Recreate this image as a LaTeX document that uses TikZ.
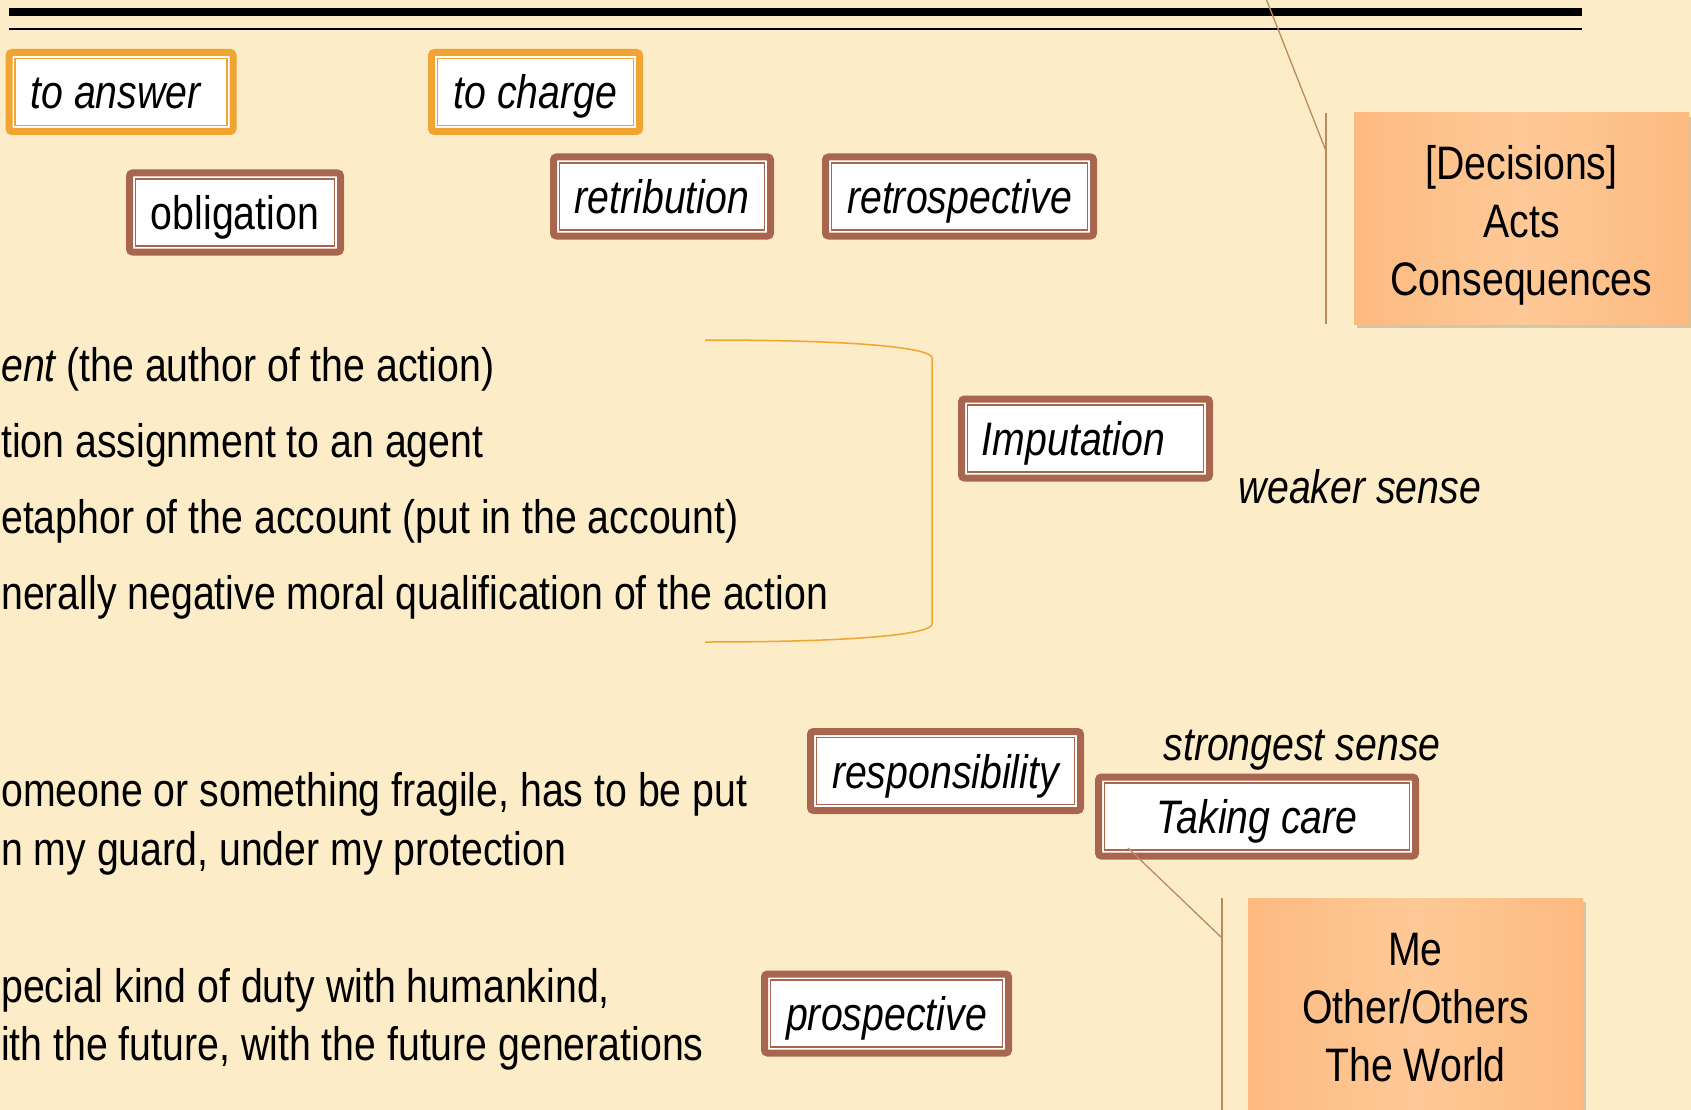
\documentclass[tikz,border=0pt]{standalone}
\usepackage{fontspec}
\setmainfont{Liberation Sans}[FakeStretch=0.835]
\usetikzlibrary{shadows}
\definecolor{bg}{HTML}{FCECC8}
\definecolor{ora}{HTML}{F0A431}
\definecolor{brn}{HTML}{A8664F}
\definecolor{boxa}{HTML}{FDBA80}
\definecolor{boxb}{HTML}{FEC997}
\definecolor{lnk}{HTML}{BC8A5C}
\newcommand\innerfr[2]{\draw[#2, line width=1.4pt] ([shift={(9.5,9.5)}]#1.north west) rectangle ([shift={(-9.5,-9.5)}]#1.south east);}
\begin{document}
\begin{tikzpicture}[x=1pt,y=-1pt,
  every node/.style={font=\fontsize{47}{58}\selectfont, inner sep=0pt, text height=34pt, text depth=0pt},
  frm/.style={draw=#1, line width=7pt, fill=white, rounded corners=3pt, minimum height=79pt},
  plain/.style={anchor=west},
  sense/.style={font=\fontsize{47}{58}\selectfont\itshape},
  obox/.style={left color=boxa, right color=boxa, middle color=boxb, minimum width=335pt, minimum height=211pt,
     drop shadow={opacity=0.35, shadow xshift=3pt, shadow yshift=-4pt}},
  otext/.style={align=center, text height=, text depth=},
  conn/.style={draw=lnk, line width=1.3pt},
  brk/.style={draw=ora, line width=1.5pt}
]
\fill[bg] (0,0) rectangle (1691,1110);
\useasboundingbox (0,0) rectangle (1691,1110);
\clip (0,0) rectangle (1691,1110);

% top rules
\draw[line width=8pt] (8.6,12) -- (1582,12);
\draw[line width=2.5pt] (8.6,29) -- (1582,29);

% framed boxes
\node[frm=ora, minimum width=224pt] (answer) at (121,92) {\itshape to answer\kern11pt};
\node[frm=ora, minimum width=208pt] (charge) at (535.5,92) {\itshape to charge};
\node[frm=brn, minimum width=211pt] (oblig) at (235,212.5) {obligation};
\node[frm=brn, minimum width=217pt] (retrib) at (662,196.5) {\itshape retribution};
\node[frm=brn, minimum width=268pt] (retro) at (959.5,196.5) {\itshape retrospective};
\node[frm=brn, minimum width=248pt] (imput) at (1085.5,438.5) {\itshape Imputation\kern24pt};
\node[frm=brn, minimum width=270pt] (resp) at (945.5,771) {\itshape responsibility};
\node[frm=brn, minimum width=317pt] (care) at (1257,816.5) {\itshape Taking care};
\node[frm=brn, minimum width=244pt] (prosp) at (886.5,1013.5) {\itshape prospective};
\innerfr{answer}{ora}
\innerfr{charge}{ora}
\innerfr{oblig}{brn}
\innerfr{retrib}{brn}
\innerfr{retro}{brn}
\innerfr{imput}{brn}
\innerfr{resp}{brn}
\innerfr{care}{brn}
\innerfr{prosp}{brn}

% orange boxes
\node[obox] (acts) at (1521.5,218.5) {};
\node[otext] (actsT) at ([yshift=-6.5pt]acts.center) {[Decisions]\\Acts\\Consequences};
\node[obox] (world) at (1415.5,1003.5) {};
\node[otext] (worldT) at ([yshift=-4.5pt]world.center) {Me\\Other/Others\\The World};

% connectors
\coordinate (v1t) at (1326,113);
\coordinate (v1b) at (1326,324);
\coordinate (v1m) at (1326,151);
\coordinate (v1x) at (1265,-4);
\draw[conn] (v1t) -- (v1b);
\draw[conn] (v1m) -- (v1x);
\coordinate (v2t) at (1222,898);
\coordinate (v2b) at (1222,1112);
\coordinate (v2m) at (1222,938);
\coordinate (c1) at (1128,848);
\draw[conn] (v2t) -- (v2b);
\draw[conn] (c1) -- (v2m);

% bracket
\coordinate (b1) at (705,340);
\coordinate (b2) at (932,358);
\coordinate (b3) at (932,624);
\coordinate (b4) at (705,642);
\draw[brk] (b1) .. controls (860,340) and (932,348) .. (b2) -- (b3) .. controls (932,634) and (860,642) .. (b4);

% left texts
\node[plain] (t1) at (1,364.5) {\itshape ent\upshape\ (the author of the action)};
\node[plain] (t2) at (1,440) {tion assignment to an agent};
\node[plain] (t3) at (1,516.5) {etaphor of the account (put in the account)};
\node[plain] (t4) at (1,592) {nerally negative moral qualification of the action};
\node[plain] (t5) at (1,789) {omeone or something fragile, has to be put};
\node[plain] (t6) at (1,848) {n my guard, under my protection};
\node[plain] (t7) at (1,985) {pecial kind of duty with humankind,};
\node[plain] (t8) at (1,1043) {ith the future, with the future generations};

% sense labels
\node[sense] (weak) at (1360,486) {weaker sense};
\node[sense] (strong) at (1302,743) {strongest sense};
\end{tikzpicture}
\end{document}
